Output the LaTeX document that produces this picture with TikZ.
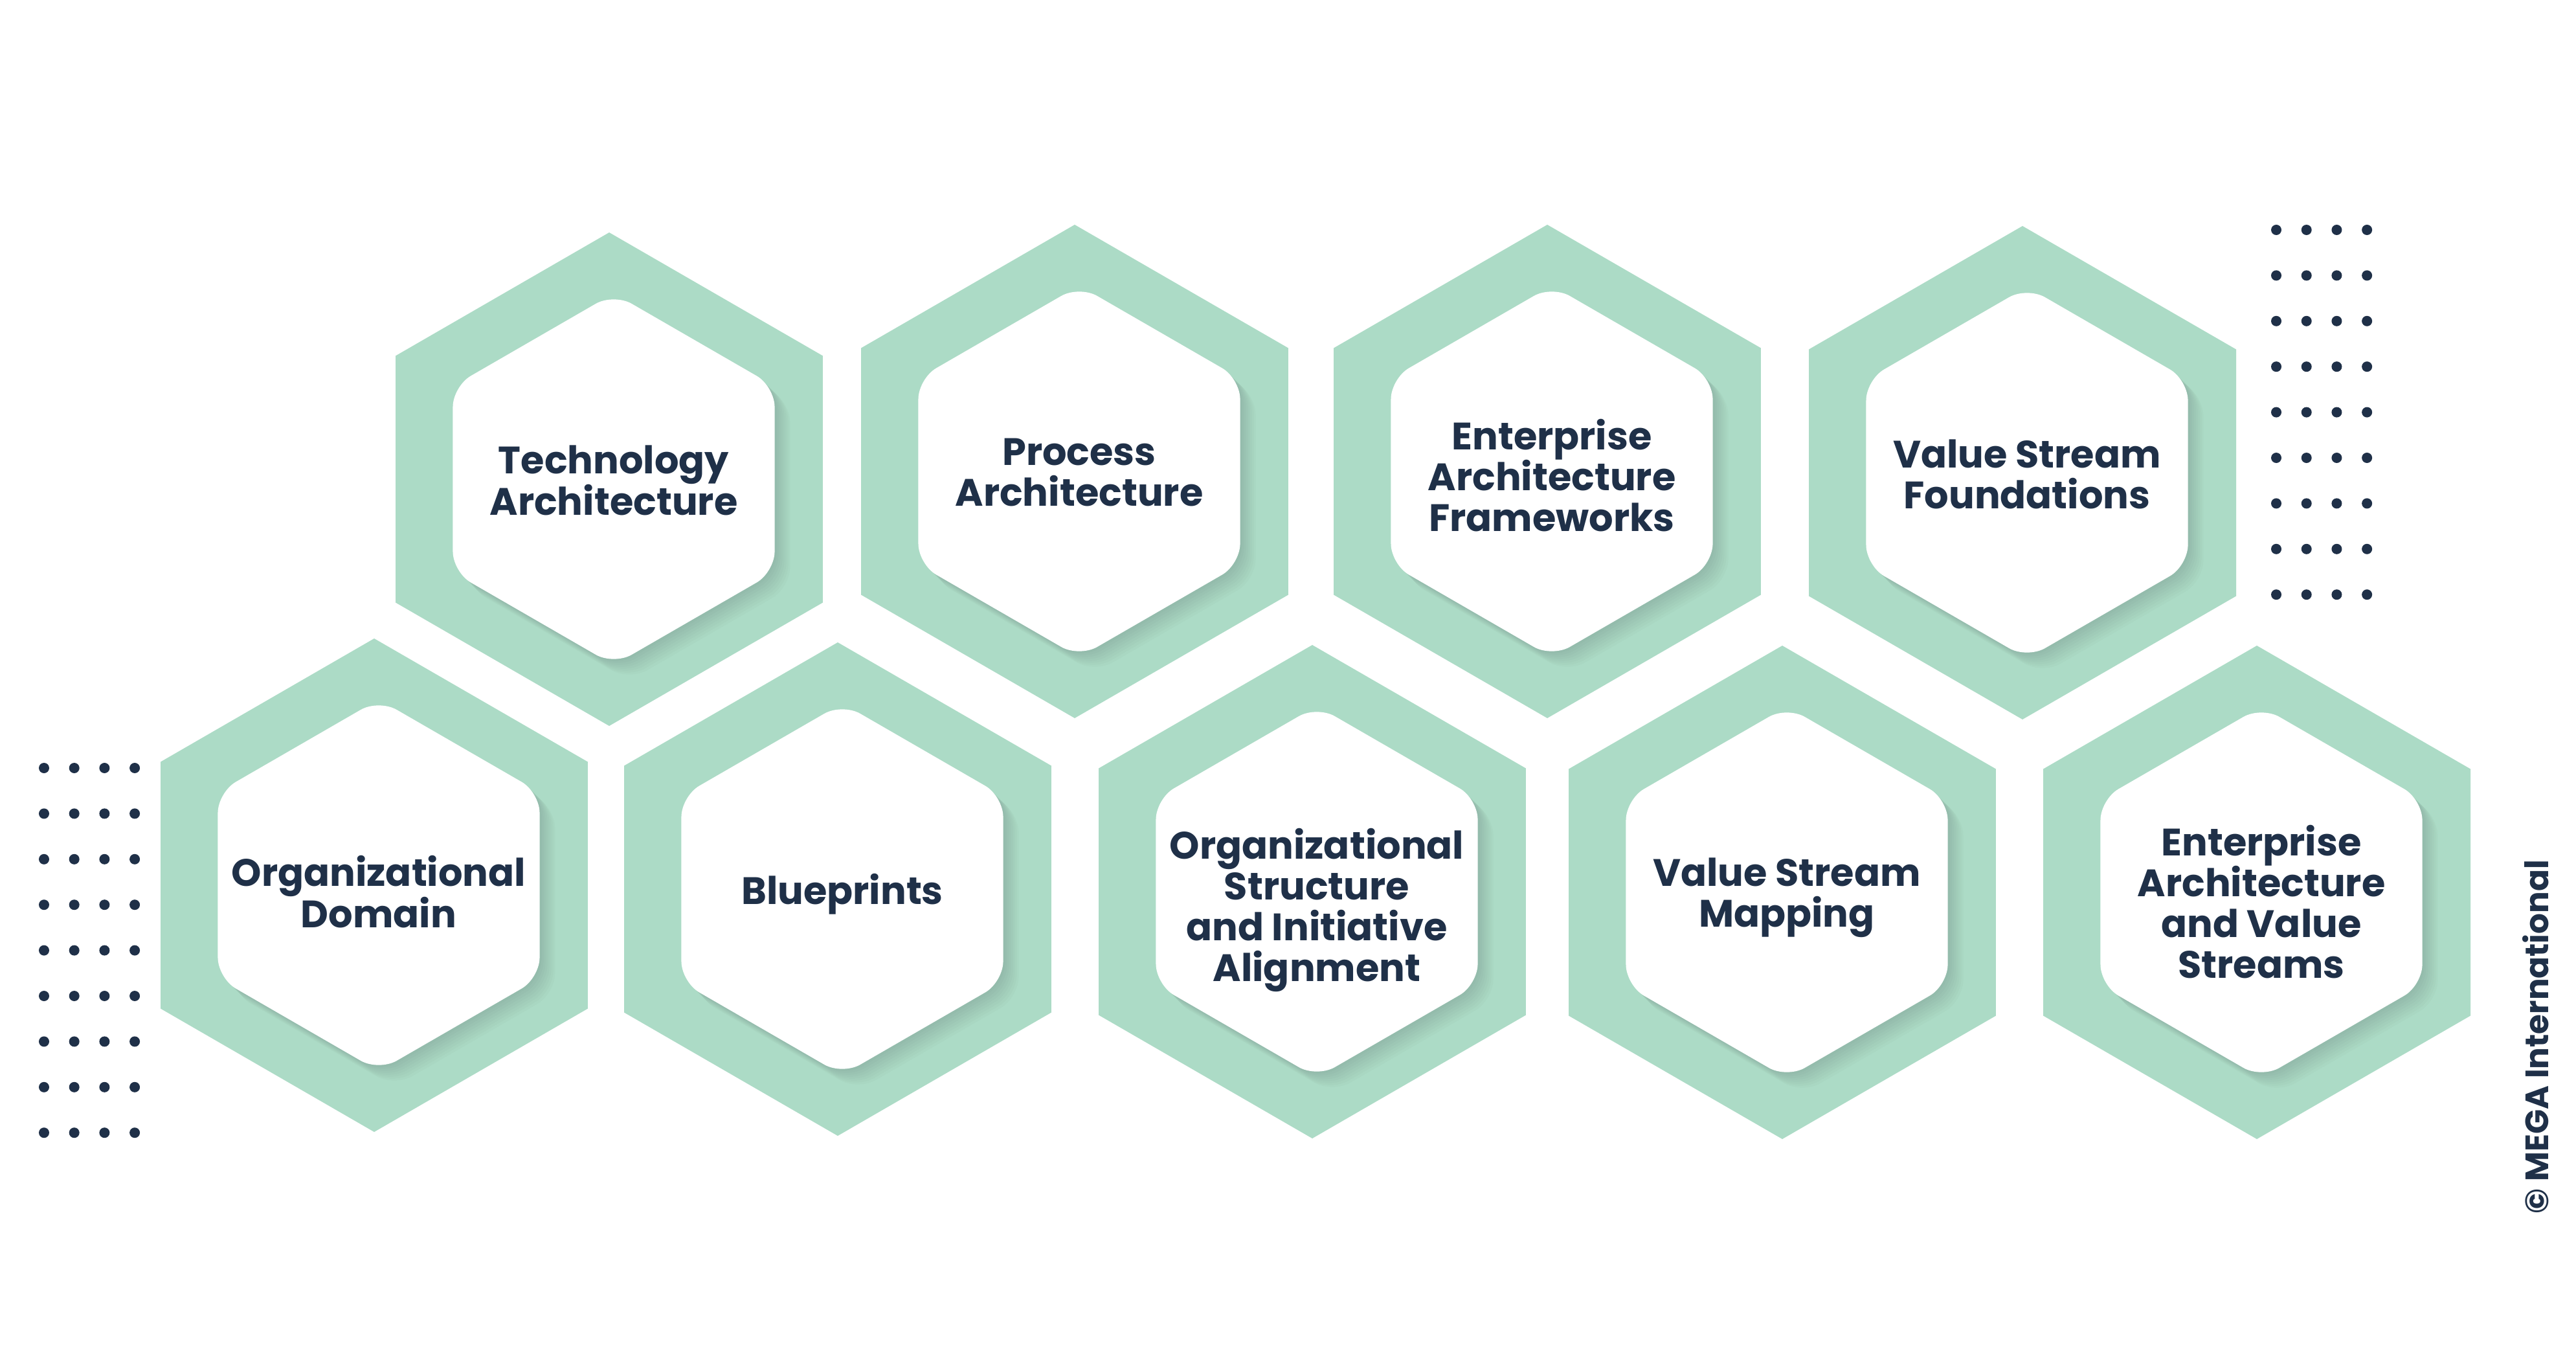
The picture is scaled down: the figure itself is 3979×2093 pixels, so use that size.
\documentclass[tikz,border=0pt]{standalone}
\usepackage{fontspec}
\setmainfont{Poppins}
\definecolor{hexgreen}{HTML}{ACDBC6}
\definecolor{navy}{HTML}{1F3048}
\tikzset{
  outerhex/.style={fill=hexgreen},
  innerhex/.style={fill=white, rounded corners=32pt},
  shadowhex/.style={fill=black, fill opacity=0.016, rounded corners=32pt},
  hexlabel/.style={text=navy, font=\fontsize{59}{63}\selectfont\bfseries, align=center, inner sep=0pt},
  griddot/.style={fill=navy, circle, inner sep=0pt, minimum size=16pt},
  copyr/.style={text=navy, rotate=90, font=\fontsize{50}{50}\selectfont\bfseries, inner sep=0pt}
}
\newcommand\hexcell[5]{%
  \fill[outerhex, shift={(#2,#3)}] (90:381) -- (30:381) -- (-30:381) -- (-90:381) -- (-150:381) -- (150:381) -- cycle;
  \foreach \s in {3,6,...,24}{
    \fill[shadowhex, shift={({#2+7+\s},{#3+\s})}] (90:287) -- (30:287) -- (-30:287) -- (-90:287) -- (-150:287) -- (150:287) -- cycle;
  }
  \fill[innerhex, shift={({#2+7},#3)}] (90:287) -- (30:287) -- (-30:287) -- (-90:287) -- (-150:287) -- (150:287) -- cycle;
  \node[hexlabel] (#1) at ({#2+7},{#3+#5}) {#4};
}
\begin{document}
\begin{tikzpicture}[x=1pt,y=-1pt]
\fill[white] (0,0) rectangle (3979,2093);
\useasboundingbox (0,0) rectangle (3979,2093);
% top row
\hexcell{tech}{941}{740}{Technology\\Architecture}{2}
\hexcell{proc}{1660}{728}{Process\\Architecture}{2}
\hexcell{eaf}{2390}{728}{Enterprise\\Architecture\\Frameworks}{6}
\hexcell{vsf}{3124}{730}{Value Stream\\Foundations}{2}
% bottom row
\hexcell{orgd}{578}{1367}{Organizational\\Domain}{10}
\hexcell{blue}{1294}{1373}{Blueprints}{8}
\hexcell{orgs}{2027}{1377}{Organizational\\Structure\\and Initiative\\Alignment}{28}
\hexcell{vsm}{2753}{1378}{Value Stream\\Mapping}{8}
\hexcell{eavs}{3486}{1378}{Enterprise\\Architecture\\and Value\\Streams}{15}
% dot grids
\foreach \i in {0,...,3}{
  \foreach \j in {0,...,8}{
    \node[griddot] (rd\i\j) at ({3516+46.7*\i},{355+70.4*\j}) {};
    \node[griddot] (ld\i\j) at ({68+46.7*\i},{1186+70.4*\j}) {};
  }
}
\node[copyr] (copy) at (3917,1601) {© MEGA International};
\end{tikzpicture}
\end{document}
